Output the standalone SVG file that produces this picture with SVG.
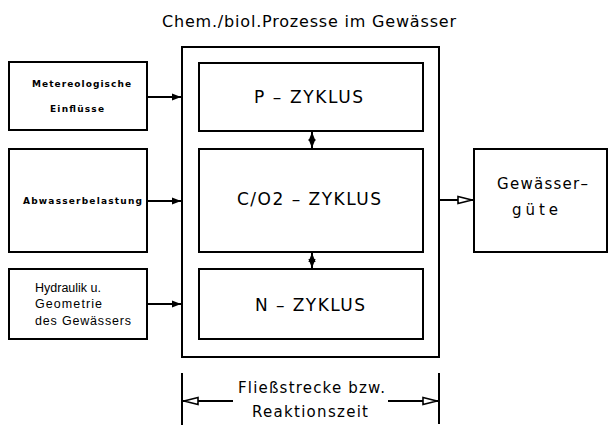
<svg xmlns="http://www.w3.org/2000/svg" width="613" height="425" viewBox="0 0 613 425">
<defs>
<style>
.box{fill:#fff;stroke:#000;stroke-width:2}
.ln{fill:none;stroke:#000;stroke-width:2}
.t{font-family:"DejaVu Sans","Liberation Sans",sans-serif;fill:#000}
.big{font-size:15px}
.zy{font-size:17px}
.mid{font-family:"Liberation Sans","DejaVu Sans",sans-serif;font-size:12.5px}
.sm{font-size:9px;font-weight:bold}
</style>
<marker id="fa" viewBox="0 0 10 10" refX="10" refY="5" markerWidth="9" markerHeight="9" markerUnits="userSpaceOnUse" orient="auto-start-reverse">
<path d="M0,1 L10,5 L0,9 Z" fill="#000"/>
</marker>
<marker id="oa" viewBox="0 0 16 10" refX="16" refY="5" markerWidth="16" markerHeight="10" markerUnits="userSpaceOnUse" orient="auto">
<path d="M1,1.5 L15,5 L1,8.5 Z" fill="#fff" stroke="#000" stroke-width="1.6"/>
</marker>
</defs>
<rect width="613" height="425" fill="#fff"/>
<text class="t" style="font-size:16px" x="162" y="27" textLength="294" lengthAdjust="spacing">Chem./biol.Prozesse im Gewässer</text>
<g id="outer"><rect class="box" x="182" y="47" width="257" height="310"/></g>
<g id="in1"><rect class="box" x="9" y="62" width="138" height="68"/>
<text class="t sm" x="32" y="87" textLength="99" lengthAdjust="spacing">Metereologische</text>
<text class="t sm" x="50" y="112" textLength="54" lengthAdjust="spacing">Einflüsse</text></g>
<g id="in2"><rect class="box" x="9" y="149" width="138" height="103"/>
<text class="t sm" x="23" y="204" textLength="119" lengthAdjust="spacing">Abwasserbelastung</text></g>
<g id="in3"><rect class="box" x="9" y="269" width="138" height="70"/>
<text class="t mid" x="35" y="292">Hydraulik u.</text>
<text class="t mid" x="35" y="308" textLength="67" lengthAdjust="spacing">Geometrie</text>
<text class="t mid" x="35" y="325" textLength="96" lengthAdjust="spacing">des Gewässers</text></g>
<g id="p"><rect class="box" x="199" y="63" width="224" height="68"/>
<text class="t zy" x="254" y="103" textLength="109" lengthAdjust="spacing">P – ZYKLUS</text></g>
<g id="c"><rect class="box" x="199" y="149" width="224" height="103"/>
<text class="t zy" x="237" y="205" textLength="144" lengthAdjust="spacing">C/O2 – ZYKLUS</text></g>
<g id="n"><rect class="box" x="199" y="269" width="224" height="70"/>
<text class="t zy" x="255" y="311" textLength="110" lengthAdjust="spacing">N – ZYKLUS</text></g>
<g id="out"><rect class="box" x="474" y="149" width="133" height="103"/>
<text class="t big" x="497" y="189" textLength="91" lengthAdjust="spacing">Gewässer–</text>
<text class="t big" x="512" y="215" textLength="46" lengthAdjust="spacing">güte</text></g>
<g id="connectors">
<line class="ln" x1="147" y1="97" x2="181" y2="97" marker-end="url(#fa)"/>
<line class="ln" x1="147" y1="201" x2="181" y2="201" marker-end="url(#fa)"/>
<line class="ln" x1="147" y1="304" x2="181" y2="304" marker-end="url(#fa)"/>
<line class="ln" x1="312" y1="132" x2="312" y2="148" marker-start="url(#fa)" marker-end="url(#fa)"/>
<line class="ln" x1="312" y1="253" x2="312" y2="268" marker-start="url(#fa)" marker-end="url(#fa)"/>
<line class="ln" x1="439" y1="200" x2="473" y2="200" marker-end="url(#oa)"/>
<line class="ln" x1="182" y1="373" x2="182" y2="425"/>
<line class="ln" x1="439" y1="373" x2="439" y2="424"/>
<line class="ln" x1="233" y1="401" x2="183" y2="401" marker-end="url(#oa)"/>
<line class="ln" x1="388" y1="401" x2="438" y2="401" marker-end="url(#oa)"/>
</g>
<text class="t big" x="238" y="393" textLength="147" lengthAdjust="spacing">Fließstrecke bzw.</text>
<text class="t big" x="252" y="417" textLength="116" lengthAdjust="spacing">Reaktionszeit</text>
</svg>
